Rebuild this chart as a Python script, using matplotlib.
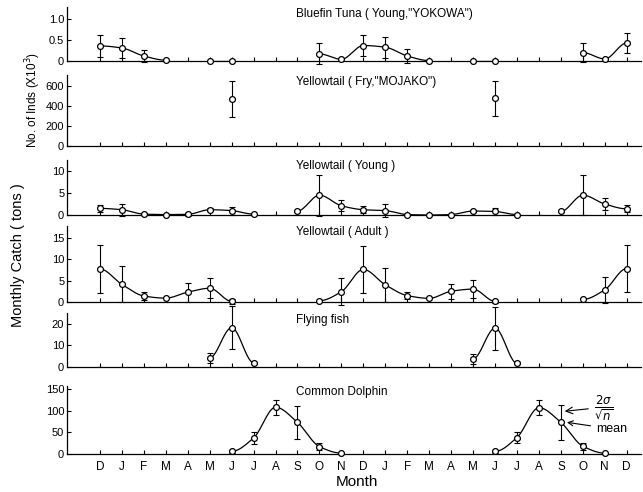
import numpy as np
import matplotlib
matplotlib.use('Agg')
import matplotlib.pyplot as plt

plt.rcParams['font.family'] = ['Liberation Sans', 'DejaVu Sans']

nan = np.nan

months = ['D', 'J', 'F', 'M', 'A', 'M', 'J', 'J', 'A', 'S', 'O', 'N',
          'D', 'J', 'F', 'M', 'A', 'M', 'J', 'J', 'A', 'S', 'O', 'N', 'D']

# values, nan = no record that month
tuna_mean = [0.36, 0.31, 0.12, 0.02, nan, 0.0, 0.0, nan, nan, nan, 0.17, 0.04,
             0.37, 0.33, 0.12, 0.01, nan, 0.0, 0.0, nan, nan, nan, 0.20, 0.05, 0.43]
tuna_err = [0.26, 0.25, 0.15, 0, 0, 0, 0, 0, 0, 0, 0.25, 0,
            0.25, 0.25, 0.16, 0, 0, 0, 0, 0, 0, 0, 0.22, 0, 0.23]

fry_mean = [nan, nan, nan, nan, nan, nan, 470, nan, nan, nan, nan, nan,
            nan, nan, nan, nan, nan, nan, 480, nan, nan, nan, nan, nan, nan]
fry_err = [0, 0, 0, 0, 0, 0, 180, 0, 0, 0, 0, 0,
           0, 0, 0, 0, 0, 0, 175, 0, 0, 0, 0, 0, 0]

young_mean = [1.5, 1.2, 0.2, 0.1, 0.15, 1.2, 1.0, 0.2, nan, 0.9, 4.5, 2.1,
              1.2, 1.0, 0.1, 0.0, 0.1, 0.9, 0.8, 0.1, nan, 0.8, 4.5, 2.5, 1.4]
young_err = [0.8, 1.4, 0.2, 0, 0.3, 0.3, 0.9, 0, 0, 0.2, 4.7, 1.2,
             0.8, 1.4, 0, 0, 0, 0.3, 0.9, 0, 0, 0.2, 4.6, 1.3, 0.8]

adult_mean = [7.7, 4.1, 1.4, 0.9, 2.3, 3.2, 0.15, nan, nan, nan, 0.3, 2.4,
              7.6, 4.0, 1.5, 0.85, 2.5, 3.0, 0.15, nan, nan, nan, 0.6, 2.85, 7.8]
adult_err = [5.5, 4.2, 1.0, 0, 2.2, 2.3, 0.6, 0, 0, 0, 0, 3.1,
             5.4, 4.0, 0.9, 0, 1.8, 2.1, 0.4, 0, 0, 0, 0, 3.0, 5.5]

fish_mean = [nan, nan, nan, nan, nan, 4.2, 18.2, 2.0, nan, nan, nan, nan,
             nan, nan, nan, nan, nan, 3.8, 18.0, 1.7, nan, nan, nan, nan, nan]
fish_err = [0, 0, 0, 0, 0, 2.3, 10, 0.5, 0, 0, 0, 0,
            0, 0, 0, 0, 0, 2.2, 10, 0.5, 0, 0, 0, 0, 0]

dolphin_mean = [nan, nan, nan, nan, nan, nan, 6, 37, 108, 73, 17, 2,
                nan, nan, nan, nan, nan, nan, 6, 38, 107, 73, 18, 2, nan]
dolphin_err = [0, 0, 0, 0, 0, 0, 3, 13, 17, 38, 8, 0,
               0, 0, 0, 0, 0, 0, 3, 12, 17, 40, 8, 0, 0]


def smooth(xs, ys, n=30):
    # monotone cubic through the points, flat at the ends
    xs = np.asarray(xs, float)
    ys = np.asarray(ys, float)
    if len(xs) < 2:
        return xs, ys
    h = np.diff(xs)
    d = np.diff(ys) / h
    m = np.zeros(len(xs))
    for k in range(1, len(xs) - 1):
        if d[k - 1] * d[k] > 0:
            w1 = 2 * h[k] + h[k - 1]
            w2 = h[k] + 2 * h[k - 1]
            m[k] = (w1 + w2) / (w1 / d[k - 1] + w2 / d[k])
    out_x, out_y = [], []
    t = np.linspace(0, 1, n)
    for k in range(len(xs) - 1):
        h00 = 2 * t**3 - 3 * t**2 + 1
        h10 = t**3 - 2 * t**2 + t
        h01 = -2 * t**3 + 3 * t**2
        h11 = t**3 - t**2
        out_x.append(xs[k] + t * h[k])
        out_y.append(h00 * ys[k] + h10 * h[k] * m[k] + h01 * ys[k + 1] + h11 * h[k] * m[k + 1])
    return np.concatenate(out_x), np.concatenate(out_y)


panels = [
    ('Bluefin Tuna ( Young,"YOKOWA")', tuna_mean, tuna_err, 1.29, [0, 0.5, 1.0], ['0', '0.5', '1.0'], 7, 61),
    ('Yellowtail ( Fry,"MOJAKO")', fry_mean, fry_err, 710, [0, 200, 400, 600], ['0', '200', '400', '600'], 75, 146),
    ('Yellowtail ( Young )', young_mean, young_err, 12.5, [0, 5, 10], ['0', '5', '10'], 160, 215),
    ('Yellowtail ( Adult )', adult_mean, adult_err, 17.7, [0, 5, 10, 15], ['0', '5', '10', '15'], 226, 302),
    ('Flying fish', fish_mean, fish_err, 25, [0, 10, 20], ['0', '10', '20'], 313, 367),
    ('Common Dolphin', dolphin_mean, dolphin_err, 157, [0, 50, 100, 150], ['0', '50', '100', '150'], 386, 454),
]

W, H = 643, 492
fig = plt.figure(figsize=(W / 100, H / 100), dpi=100)

x = np.arange(len(months))
axes = []
for title, mean, err, ytop, yt, ytl, top, bot in panels:
    ax = fig.add_axes([67 / W, 1 - bot / H, (641 - 67) / W, (bot - top) / H])
    axes.append(ax)
    mean = np.array(mean, float)
    err = np.array(err, float)
    ok = ~np.isnan(mean)

    # connect runs of consecutive months
    runs = []
    cur = []
    for i in range(len(mean)):
        if ok[i]:
            cur.append(i)
        else:
            if cur:
                runs.append(cur)
            cur = []
    if cur:
        runs.append(cur)
    for r in runs:
        if len(r) > 1:
            sx, sy = smooth(x[r], mean[r])
            ax.plot(sx, sy, color='black', lw=0.9, zorder=2)

    has_err = ok & (err > 0)
    ax.errorbar(x[has_err], mean[has_err], yerr=err[has_err], fmt='none',
                ecolor='black', elinewidth=0.8, capsize=2.5, capthick=0.8,
                zorder=2, clip_on=False)
    ax.plot(x[ok], mean[ok], 'o', ms=4.2, mfc='white', mec='black', mew=0.9,
            zorder=3, clip_on=False)

    ax.set_xlim(-1.5, 24.65)
    ax.set_ylim(0, ytop)
    ax.set_yticks(yt)
    ax.set_yticklabels(ytl)
    ax.set_xticks(x)
    ax.set_xticklabels([])
    for s in ['top', 'right']:
        ax.spines[s].set_visible(False)
    ax.spines['left'].set_linewidth(0.9)
    ax.spines['bottom'].set_linewidth(0.9)
    ax.tick_params(direction='in', length=3, width=0.8, labelsize=8, pad=2)
    ax.text(8.95, 1 - 0.5 / (bot - top), title, transform=ax.get_xaxis_transform(),
            ha='left', va='top', fontsize=8.5)

bottom_ax = axes[-1]
bottom_ax.set_xticklabels(months)
bottom_ax.tick_params(axis='x', labelsize=8.5, pad=5)

bottom_ax.annotate(r'$\frac{2\sigma}{\sqrt{n}}$', xy=(21.05, 98), xytext=(22.5, 108),
                   fontsize=12, va='center', ha='left',
                   arrowprops=dict(arrowstyle='->', color='black', lw=0.8))
bottom_ax.annotate('mean', xy=(21.15, 74), xytext=(22.6, 58),
                   fontsize=9, va='center', ha='left',
                   arrowprops=dict(arrowstyle='->', color='black', lw=0.8))

fig.text(18 / W, 1 - 255 / H, 'Monthly Catch ( tons )', rotation=90,
         ha='center', va='center', fontsize=10.5)
fig.text(33 / W, 1 - 100 / H, 'No. of Inds (X10$^3$)', rotation=90,
         ha='center', va='center', fontsize=8.5)
fig.text(357 / W, 1 - 482 / H, 'Month', ha='center', va='center', fontsize=11)

fig.savefig('out.png', dpi=100)
